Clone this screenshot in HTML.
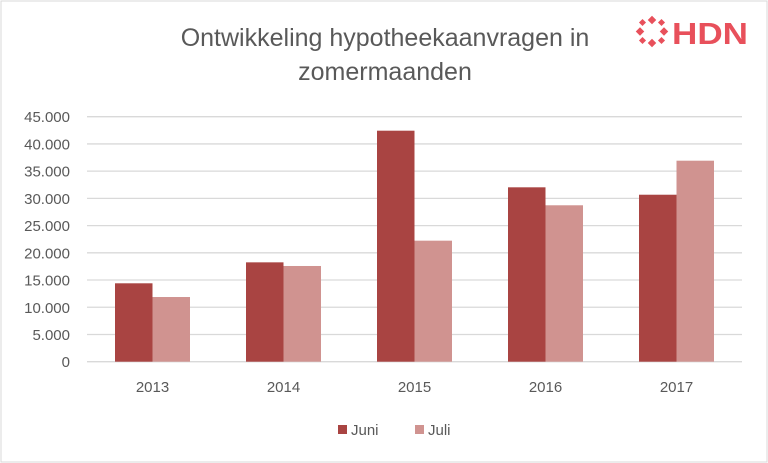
<!DOCTYPE html>
<html><head><meta charset="utf-8"><style>
body{margin:0;background:#fff;}
svg{display:block;font-family:"Liberation Sans",sans-serif;}
</style></head><body>
<svg id="c" width="768" height="463">
<rect x="1" y="1" width="766" height="461" fill="#fff" stroke="#d9d9d9"/>
<text x="385" y="46" text-anchor="middle" font-size="25" fill="#595959">Ontwikkeling hypotheekaanvragen in</text>
<text x="385" y="80" text-anchor="middle" font-size="25" fill="#595959">zomermaanden</text>
<g>
<g fill="#e8505b">
<rect x="649" y="17" width="6" height="6" transform="rotate(45 652 20)"/>
<rect x="649" y="40" width="6" height="6" transform="rotate(45 652 43)"/>
<rect x="637" y="28.5" width="6" height="6" transform="rotate(45 640 31.5)"/>
<rect x="661" y="28.5" width="6" height="6" transform="rotate(45 664 31.5)"/>
<rect x="640" y="20" width="5" height="5" transform="rotate(45 642.5 22.5)"/>
<rect x="659" y="20" width="5" height="5" transform="rotate(45 661.5 22.5)"/>
<rect x="640" y="38" width="5" height="5" transform="rotate(45 642.5 40.5)"/>
<rect x="659" y="38" width="5" height="5" transform="rotate(45 661.5 40.5)"/>
</g>
<text x="672" y="44" font-size="31" font-weight="bold" fill="#e8505b" textLength="76" lengthAdjust="spacingAndGlyphs">HDN</text>
</g>
<g id="grid"></g><g id="bars"></g><g id="labels"></g>
<g>
<rect x="338" y="425" width="9" height="9" fill="#a94442"/>
<text x="351" y="435" font-size="15" fill="#595959">Juni</text>
<rect x="415" y="425" width="9" height="9" fill="#d09390"/>
<text x="428" y="435" font-size="15" fill="#595959">Juli</text>
</g>
</svg>
<script>
const categories=["2013","2014","2015","2016","2017"];
const juni=[14400,18250,42430,32030,30670];
const juli=[11880,17580,22230,28730,36920];
const ticks=[0,5000,10000,15000,20000,25000,30000,35000,40000,45000];
const tickLabels=["0","5.000","10.000","15.000","20.000","25.000","30.000","35.000","40.000","45.000"];
const NS="http://www.w3.org/2000/svg";
const L=87,R=742,T=116.7,B=361.7,MAX=45000;
const y=v=>B-(v/MAX)*(B-T);
const bw=(R-L)/categories.length;
const x=i=>L+bw*i+bw/2;
function mk(t,a,p){const e=document.createElementNS(NS,t);for(const k in a)e.setAttribute(k,a[k]);p.appendChild(e);return e;}
const g=document.getElementById('grid'),b=document.getElementById('bars'),lb=document.getElementById('labels');
ticks.forEach((t,i)=>{
 const ln=mk('line',{x1:L,x2:R,y1:y(t),y2:y(t),stroke:'#d9d9d9','stroke-width':1.3},g);
 
 
 const tx=mk('text',{x:70,y:y(t)+5.5,'text-anchor':'end','font-size':15,fill:'#595959'},lb);
 tx.textContent=tickLabels[i];
 
 
});
const w=37.5;
categories.forEach((c,i)=>{
 const r1=mk('rect',{x:x(i)-w,y:y(juni[i]),width:w,height:B-y(juni[i]),fill:'#a94442'},b);
 
 
 const r2=mk('rect',{x:x(i),y:y(juli[i]),width:w,height:B-y(juli[i]),fill:'#d09390'},b);
 
 
 const t=mk('text',{x:x(i),y:392,'text-anchor':'middle','font-size':15,fill:'#595959'},lb);
 t.textContent=c;
 
 
});
</script>
</body></html>
